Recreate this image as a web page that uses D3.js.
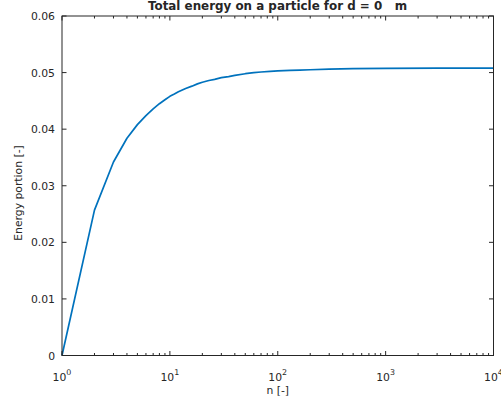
<!DOCTYPE html>
<html><head><meta charset="utf-8">
<script src="https://cdn.jsdelivr.net/npm/d3@7"></script>
<style>
body{margin:0;background:#fff;}
text{font-family:"DejaVu Sans",sans-serif;fill:#262626;}
</style></head>
<body><svg id="c" width="501" height="412"></svg>
<script>
const nValues = [1,2,3,4,5,6,7,8,9,10,11,12,14,16,18,20,23,26,30,35,40,50,60,70,85,100,130,160,200,300,500,1000,3000,10000];
const energyValues = [0,0.0257,0.0342,0.0384,0.0408,0.0424,0.0436,0.0445,0.0452,0.0458,0.0462,0.0466,0.0472,0.0476,0.0480,0.0483,0.0486,0.0488,0.0491,0.0493,0.0495,0.0498,0.0500,0.0501,0.0502,0.0503,0.0504,0.05045,0.0505,0.0506,0.0507,0.05075,0.0508,0.0508];
const yTicks = [0,0.01,0.02,0.03,0.04,0.05,0.06];
const yTickLabels = ["0","0.01","0.02","0.03","0.04","0.05","0.06"];
const xTicks = [1,10,100,1000,10000];
const xTickExps = ["0","1","2","3","4"];
const titleText = "Total energy on a particle for d = 0   m";
const xLabel = "n [-]";
const yLabel = "Energy portion [-]";

const L=62, R=493.5, T=16, B=355.5;
const svg = d3.select("#c");
const x = d3.scaleLog().domain([1,10000]).range([L,R]);
const y = d3.scaleLinear().domain([0,0.06]).range([B,T]);
const axc = "#262626";

const minor = [];
for (let d=1; d<10000; d*=10) for (let k=2;k<=9;k++) minor.push(d*k);

const g = svg.append("g");
g.append("path").datum(nValues.map((n,i)=>[n,energyValues[i]]))
  .attr("fill","none").attr("stroke","#0072BD").attr("stroke-width",1.7)
  .attr("stroke-linejoin","round")
  .attr("d", d3.line().x(d=>x(d[0])).y(d=>y(d[1])));

g.append("rect").attr("x",L).attr("y",T).attr("width",R-L).attr("height",B-T)
  .attr("fill","none").attr("stroke",axc).attr("stroke-width",1);

const tk = g.append("g").attr("stroke",axc).attr("stroke-width",1);
xTicks.forEach(v=>{
  tk.append("line").attr("x1",x(v)).attr("x2",x(v)).attr("y1",B).attr("y2",B-4.5);
  tk.append("line").attr("x1",x(v)).attr("x2",x(v)).attr("y1",T).attr("y2",T+4.5);
});
minor.forEach(v=>{
  tk.append("line").attr("x1",x(v)).attr("x2",x(v)).attr("y1",B).attr("y2",B-2.5);
  tk.append("line").attr("x1",x(v)).attr("x2",x(v)).attr("y1",T).attr("y2",T+2.5);
});
yTicks.forEach(v=>{
  tk.append("line").attr("x1",L).attr("x2",L+4.5).attr("y1",y(v)).attr("y2",y(v));
  tk.append("line").attr("x1",R).attr("x2",R-4.5).attr("y1",y(v)).attr("y2",y(v));
});

yTicks.forEach((v,i)=>{
  svg.append("text").attr("x",L-7).attr("y",y(v)+4).attr("text-anchor","end")
    .attr("font-size",10.8).text(yTickLabels[i]);
});
xTicks.forEach((v,i)=>{
  const t = svg.append("text").attr("x",x(v)).attr("y",381).attr("text-anchor","middle").attr("font-size",10.8);
  t.append("tspan").text("10");
  t.append("tspan").attr("dy",-6).attr("font-size",7.9).text(xTickExps[i]);
});
svg.append("text").attr("x",(L+R)/2).attr("y",393.5).attr("text-anchor","middle").attr("font-size",10.8).text(xLabel);
svg.append("text").attr("transform",`translate(21.5,193) rotate(-90)`).attr("text-anchor","middle").attr("font-size",10.8).text(yLabel);
svg.append("text").attr("x",277.5).attr("y",9.5).attr("text-anchor","middle").attr("font-size",11.9)
  .attr("font-weight","bold").style("white-space","pre").text(titleText);
</script></body></html>
